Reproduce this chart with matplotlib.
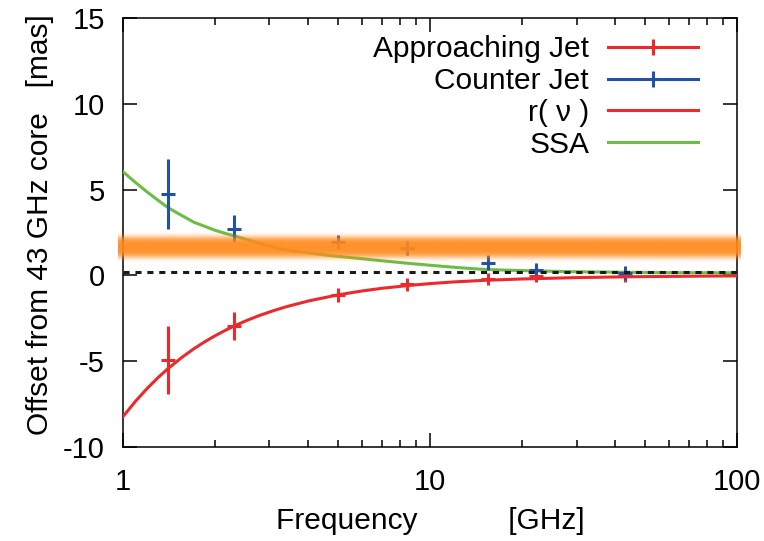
import numpy as np
import matplotlib
matplotlib.use('Agg')
import matplotlib.pyplot as plt
from matplotlib.lines import Line2D
from matplotlib.colors import to_rgb

plt.rcParams['font.family'] = ['Liberation Sans', 'DejaVu Sans']
plt.rcParams['axes.unicode_minus'] = False

# measured core positions
freq = [1.4, 2.3, 5.0, 8.4, 15.4, 22.2, 43.1]
approach = [-4.93, -2.95, -1.14, -0.52, -0.21, -0.05, -0.03]
approach_err = [2.0, 0.8, 0.4, 0.38, 0.35, 0.35, 0.35]
counter = [4.73, 2.72, 1.96, 1.61, 0.74, 0.31, 0.15]
counter_err = [2.04, 0.77, 0.4, 0.4, 0.45, 0.4, 0.4]

# model curves
r_freq = [1.0, 1.1, 1.2, 1.3, 1.4, 1.55, 1.7, 1.85, 2.0, 2.15, 2.3, 2.55, 2.8, 3.1, 3.4,
          4.0, 5.0, 6.0, 7.0, 8.4, 10, 12, 15, 20, 30, 45, 70, 100]
r_vals = [-8.23, -7.32, -6.58, -5.96, -5.44, -4.80, -4.28, -3.86, -3.51, -3.21, -2.95,
          -2.60, -2.32, -2.05, -1.83, -1.50, -1.14, -0.91, -0.75, -0.60, -0.48, -0.38,
          -0.29, -0.21, -0.13, -0.08, -0.05, -0.03]
ssa_freq = [1.0, 1.1, 1.2, 1.3, 1.4, 1.55, 1.7, 1.85, 2.0, 2.15, 2.3, 2.55, 2.8, 3.05,
            3.3, 3.6, 4.0, 4.7, 5.8, 6.9, 8.4, 10, 12, 14.6, 18, 22, 30, 43, 60, 100]
ssa_vals = [6.04, 5.40, 4.85, 4.38, 3.95, 3.50, 3.10, 2.85, 2.62, 2.45, 2.30, 2.07, 1.85,
            1.68, 1.52, 1.42, 1.32, 1.16, 1.00, 0.86, 0.71, 0.59, 0.47, 0.36, 0.30, 0.26,
            0.21, 0.18, 0.16, 0.15]

band_center = 1.65
band_width = 0.64
zero_level = 0.2

yticks = [-10, -5, 0, 5, 10, 15]
xticks = [1, 10, 100]

red = '#ea2a2c'
blue = '#2152a6'
green = '#6dbd45'
orange = '#ff8a1c'

fig = plt.figure(figsize=(7.64, 5.41), dpi=100)
ax = fig.add_axes([0.161, 0.1738, 0.8037, 0.793])
ax.set_xscale('log')

ax.plot(r_freq, r_vals, color=red, lw=2.2, zorder=3)
ax.plot(ssa_freq, ssa_vals, color=green, lw=2.2, zorder=3)

ax.errorbar(freq, approach, yerr=approach_err, fmt='_', color=red, ms=10, mew=2.2,
            elinewidth=2.2, capsize=0, zorder=4)
ax.errorbar(freq, counter, yerr=counter_err, fmt='_', color=blue, ms=10, mew=2.2,
            elinewidth=2.2, capsize=0, zorder=4)

ax.set_xlim(1, 100)
ax.set_ylim(-10, 15)
ax.set_autoscale_on(False)

# glowing band
yy = np.linspace(band_center - 2.5 * band_width, band_center + 2.5 * band_width, 200)
alpha = 0.93 * np.exp(-((yy - band_center) / band_width) ** 4)
img = np.zeros((len(yy), 2, 4))
img[:, :, :3] = to_rgb(orange)
img[:, :, 3] = alpha[:, None]
ax.imshow(img, extent=[-0.008, 1.008, yy[0], yy[-1]], origin='lower', aspect='auto',
          transform=ax.get_yaxis_transform(), interpolation='bilinear', zorder=5,
          clip_on=False)
ax.set_xlim(1, 100)
ax.set_ylim(-10, 15)

ax.axhline(zero_level, color='#1a1a1a', lw=2.2, dashes=(2, 1.9), zorder=6)

ax.set_yticks(yticks)
ax.set_yticklabels([str(t) for t in yticks])
ax.set_xticks(xticks)
ax.set_xticklabels([str(t) for t in xticks])
ax.tick_params(which='both', direction='in', top=True, right=True, labelsize=21, width=1.1)
ax.tick_params(which='major', length=10)
ax.tick_params(which='minor', length=5)
ax.tick_params(axis='x', which='major', pad=15)
ax.tick_params(axis='y', which='major', pad=13)
for s in ax.spines.values():
    s.set_linewidth(1.1)

ax.set_xlabel('Frequency           [GHz]', fontsize=21.5, labelpad=8)
ax.set_ylabel('Offset from 43 GHz core   [mas]', fontsize=21.5)
ax.yaxis.set_label_coords(-0.112, 0.5175)

handles = [
    Line2D([], [], color=red, lw=2.2, marker='|', ms=12, mew=2.2),
    Line2D([], [], color=blue, lw=2.2, marker='|', ms=12, mew=2.2),
    Line2D([], [], color=red, lw=2.2),
    Line2D([], [], color=green, lw=2.2),
]
labels = ['Approaching Jet', 'Counter Jet', 'r( ν )', 'SSA']
ax.legend(handles, labels, loc='upper right', bbox_to_anchor=(0.936, 0.96),
          frameon=False, markerfirst=False, fontsize=21.5, handlelength=3.0,
          handletextpad=0.64, labelspacing=0.13, borderpad=0, borderaxespad=0,
          numpoints=1)

fig.savefig('out.png', dpi=100)
